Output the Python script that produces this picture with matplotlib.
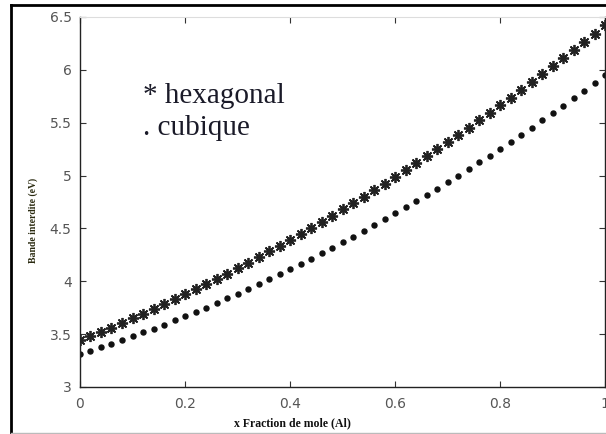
import matplotlib.pyplot as plt
from matplotlib.lines import Line2D

# x : fraction molaire d'aluminium
x_fraction = [0.00, 0.02, 0.04, 0.06, 0.08, 0.10, 0.12, 0.14, 0.16, 0.18,
              0.20, 0.22, 0.24, 0.26, 0.28, 0.30, 0.32, 0.34, 0.36, 0.38,
              0.40, 0.42, 0.44, 0.46, 0.48, 0.50, 0.52, 0.54, 0.56, 0.58,
              0.60, 0.62, 0.64, 0.66, 0.68, 0.70, 0.72, 0.74, 0.76, 0.78,
              0.80, 0.82, 0.84, 0.86, 0.88, 0.90, 0.92, 0.94, 0.96, 0.98,
              1.00]

# gap (eV)
gap_hexagonal = [3.440, 3.480, 3.521, 3.562, 3.605, 3.648, 3.692, 3.737, 3.782, 3.829,
                 3.876, 3.924, 3.973, 4.022, 4.073, 4.124, 4.176, 4.229, 4.282, 4.337,
                 4.392, 4.448, 4.505, 4.562, 4.621, 4.680, 4.740, 4.801, 4.862, 4.925,
                 4.988, 5.052, 5.117, 5.182, 5.249, 5.316, 5.384, 5.453, 5.522, 5.593,
                 5.664, 5.736, 5.809, 5.882, 5.957, 6.032, 6.108, 6.185, 6.262, 6.341,
                 6.420]

gap_cubique = [3.310, 3.342, 3.375, 3.409, 3.444, 3.480, 3.516, 3.553, 3.591, 3.630,
               3.670, 3.711, 3.752, 3.794, 3.838, 3.882, 3.926, 3.972, 4.019, 4.066,
               4.114, 4.163, 4.213, 4.264, 4.315, 4.368, 4.421, 4.475, 4.530, 4.585,
               4.642, 4.699, 4.758, 4.817, 4.877, 4.938, 4.999, 5.062, 5.125, 5.189,
               5.254, 5.320, 5.387, 5.454, 5.522, 5.592, 5.662, 5.732, 5.804, 5.877,
               5.950]

x_ticks = [0, 0.2, 0.4, 0.6, 0.8, 1]
x_tick_labels = ['0', '0.2', '0.4', '0.6', '0.8', '1']
y_ticks = [3, 3.5, 4, 4.5, 5, 5.5, 6, 6.5]
y_tick_labels = ['3', '3.5', '4', '4.5', '5', '5.5', '6', '6.5']

fig = plt.figure(figsize=(6.06, 4.34), dpi=100)
ax = fig.add_axes([80 / 606, 1 - 387 / 434, 525 / 606, 370 / 434])

ax.plot(x_fraction, gap_hexagonal, linestyle='none', marker=(8, 2, 0),
        markersize=8, markeredgewidth=1.3, color='#222222')
ax.plot(x_fraction, gap_cubique, linestyle='none', marker='o',
        markersize=3.6, color='#111111')

ax.set_xlim(0, 1)
ax.set_ylim(3, 6.5)
ax.set_xticks(x_ticks)
ax.set_xticklabels(x_tick_labels)
ax.set_yticks(y_ticks)
ax.set_yticklabels(y_tick_labels)
ax.tick_params(direction='in', length=4, width=0.8, top=True, right=True,
               labelsize=10, labelcolor='#555555', color='#333333')
ax.tick_params(axis='y', pad=6)
ax.tick_params(axis='x', pad=7.5)
for side in ['left', 'bottom', 'right']:
    ax.spines[side].set_color('#222222')
    ax.spines[side].set_linewidth(1.0)
ax.spines['top'].set_color('#dddddd')
ax.spines['top'].set_linewidth(0.8)

# legend written as text, like the original
ax.text(0.12, 5.69, '* hexagonal', family='Liberation Serif', fontsize=21,
        color='#1a1a28', va='baseline')
ax.text(0.12, 5.385, '. cubique', family='Liberation Serif', fontsize=21,
        color='#1a1a28', va='baseline')

fig.text(33 / 606, 1 - 220 / 434, 'Bande interdite (eV)', rotation=90,
         family='Liberation Serif', fontweight='bold', fontsize=7,
         color='#2a2a10', ha='center', va='center')
fig.text(292 / 606, 1 - 423 / 434, 'x Fraction de mole (Al)',
         family='Liberation Serif', fontweight='bold', fontsize=8.5,
         color='#111111', ha='center', va='center')

# outer frame of the pasted figure
fig.add_artist(Line2D([11 / 606, 1], [1 - 5 / 434, 1 - 5 / 434],
                      transform=fig.transFigure, color='black', linewidth=2))
fig.add_artist(Line2D([11 / 606, 11 / 606], [0, 1 - 5 / 434],
                      transform=fig.transFigure, color='black', linewidth=2))
fig.add_artist(Line2D([11 / 606, 1], [1 / 434, 1 / 434],
                      transform=fig.transFigure, color='#bbbbbb', linewidth=1))

fig.savefig('out.png', dpi=100)
